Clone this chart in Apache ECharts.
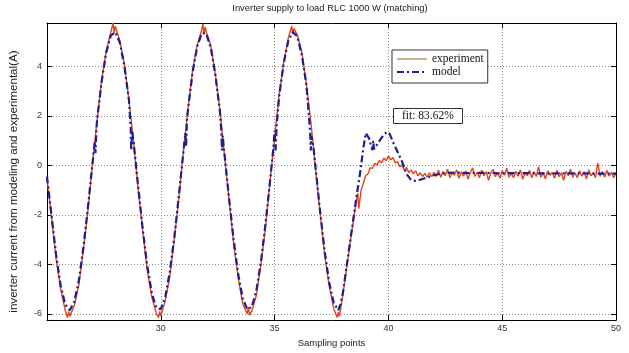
<!DOCTYPE html>
<html>
<head>
<meta charset="utf-8">
<script src="https://cdn.jsdelivr.net/npm/echarts@6/dist/echarts.min.js"></script>
<style>
html,body{margin:0;padding:0;background:#fff;}
#chart{width:629px;height:353px;}
</style>
</head>
<body>
<div id="chart"></div>
<script>
const titleText = 'Inverter supply to load RLC 1000 W (matching)';
const xAxisName = 'Sampling points';
const yAxisName = 'inverter current from modeling and experimental(A)';
const seriesNames = ['experiment', 'model'];
const fitText = 'fit: 83.62%';
const xTickLabels = [30, 35, 40, 45, 50];
const yTickLabels = [-6, -4, -2, 0, 2, 4];

const modelX = [25.0,25.2,25.4,25.6,25.8,26.0,26.2,26.4,26.6,26.8,27.0,27.1,27.13,27.17,27.2,27.4,27.6,27.8,28.0,28.2,28.4,28.6,28.68,28.7,28.74,28.8,
29.0,29.2,29.4,29.6,29.8,30.0,30.2,30.4,30.6,30.8,31.0,31.08,31.11,31.15,31.2,31.4,31.6,31.8,32.0,32.2,32.4,32.6,32.66,32.69,32.72,32.8,
33.0,33.2,33.4,33.6,33.8,34.0,34.2,34.4,34.6,34.8,34.95,35.0,35.04,35.09,35.2,35.4,35.6,35.8,36.0,36.2,36.4,36.52,36.56,36.59,36.62,36.7,36.8,
37.0,37.2,37.4,37.6,37.8,37.9,38.0,38.2,38.4,38.6,38.75,38.9,39.0,39.05,39.15,39.25,39.3,39.33,39.37,39.45,39.6,39.8,39.95,40.05,40.2,40.4,40.6,40.8,
41.0,41.2,41.4,41.6,41.8,42.0,42.3,42.6,43.0,43.5,44.0,45.0,46.0,47.0,48.0,49.0,50.0];
const modelY = [-0.45,-2.03,-3.61,-4.85,-5.62,-5.85,-5.51,-4.64,-3.32,-1.69,0.09,0.96,0.5,1.45,1.83,3.37,4.55,5.24,5.38,4.96,4.01,2.64,1.5,0.6,1.4,0.98,
-0.80,-2.53,-4.02,-5.14,-5.75,-5.81,-5.30,-4.28,-2.86,-1.16,0.62,1.3,0.75,1.85,2.32,3.77,4.81,5.34,5.32,4.73,3.64,2.17,1.35,0.6,1.2,0.44,
-1.34,-3.01,-4.40,-5.37,-5.82,-5.71,-5.05,-3.89,-2.37,-0.63,0.75,1.4,0.6,1.6,2.79,4.13,5.02,5.39,5.20,4.45,3.23,1.85,1.4,0.6,1.2,0.8,-0.09,
-1.86,-3.47,-4.74,-5.56,-5.85,-5.6,-5.15,-3.85,-2.55,-1.25,-0.35,0.7,1.3,1.35,1.1,0.75,0.62,1.0,0.65,0.72,0.98,1.25,1.35,1.28,0.95,0.55,0.15,-0.35,
-0.6,-0.63,-0.58,-0.52,-0.46,-0.4,-0.34,-0.3,-0.29,-0.31,-0.3,-0.32,-0.31,-0.33,-0.32,-0.33,-0.33];

const expX = [25.0,25.2,25.4,25.6,25.8,25.9,25.95,26.0,26.2,26.4,26.6,26.8,27.0,27.2,27.4,27.6,27.8,27.9,27.95,28.0,28.2,28.4,28.6,28.8,
29.0,29.2,29.4,29.6,29.8,29.9,29.95,30.0,30.2,30.4,30.6,30.8,31.0,31.2,31.4,31.6,31.8,31.85,31.9,31.95,32.0,32.2,32.4,32.6,32.8,
33.0,33.2,33.4,33.6,33.8,33.85,33.9,34.0,34.2,34.4,34.6,34.8,35.0,35.2,35.4,35.6,35.75,35.8,35.85,36.0,36.2,36.4,36.6,36.8,
37.0,37.2,37.4,37.6,37.75,37.8,37.85,38.0,38.2,38.4,38.6,38.65,38.7,38.8,38.9,39.0,39.1,39.2,39.3,39.4,39.5,39.6,39.7,39.8,39.9,
40.0,40.1,40.2,40.3,40.4,40.5,40.6,40.7,40.8,40.9,41.0,41.1,41.2,41.3,41.4,41.5,41.6,41.7,41.8,41.9,42.0,
42.1,42.2,42.3,42.4,42.5,42.6,42.7,42.8,42.9,43.0,43.1,43.2,43.3,43.4,43.5,43.6,43.7,43.8,43.9,44.0,
44.1,44.2,44.3,44.4,44.5,44.6,44.7,44.8,44.9,45.0,45.1,45.2,45.3,45.4,45.5,45.6,45.7,45.8,45.9,46.0,
46.1,46.2,46.3,46.4,46.5,46.6,46.7,46.8,46.9,47.0,47.1,47.2,47.3,47.4,47.5,47.6,47.7,47.8,47.9,48.0,
48.1,48.2,48.3,48.4,48.5,48.6,48.7,48.8,48.9,49.0,49.1,49.2,49.3,49.4,49.5,49.6,49.7,49.8,49.9,50.0];
const expY = [-0.55,-2.1,-3.78,-5.0,-5.85,-6.15,-5.9,-6.1,-5.66,-4.83,-3.42,-1.8,0.08,1.82,3.45,4.6,5.36,5.75,5.35,5.62,5.02,4.1,2.63,0.99,
-0.9,-2.6,-4.2,-5.3,-5.98,-6.15,-5.9,-6.08,-5.45,-4.47,-2.95,-1.27,0.63,2.31,3.86,4.86,5.47,5.72,5.3,5.58,5.38,4.84,3.66,2.21,0.38,
-1.4,-3.16,-4.54,-5.59,-6.0,-5.72,-6.05,-5.88,-5.25,-4.01,-2.5,-0.66,1.1,2.85,4.16,5.14,5.62,5.3,5.52,5.27,4.55,3.25,1.7,-0.17,
-1.92,-3.63,-4.88,-5.79,-6.15,-5.92,-6.1,-5.22,-3.9,-2.62,-1.38,-1.12,-1.75,-1.0,-0.72,-0.42,-0.35,-0.1,-0.12,0.08,0.02,0.2,0.1,0.3,0.18,
0.38,0.22,0.32,0.1,0.15,-0.05,0.02,-0.2,-0.08,-0.3,-0.18,-0.34,-0.22,-0.42,-0.3,-0.45,-0.32,-0.48,-0.3,-0.46,-0.28,
-0.45,-0.2,-0.48,-0.25,-0.42,-0.15,-0.5,-0.3,-0.4,-0.18,-0.52,-0.26,-0.44,-0.22,-0.55,-0.3,-0.1,-0.45,-0.28,-0.5,
-0.2,-0.42,-0.26,-0.6,-0.3,-0.16,-0.46,-0.3,-0.52,-0.22,-0.4,-0.12,-0.48,-0.32,-0.5,-0.24,-0.44,-0.18,-0.56,-0.3,
-0.42,-0.2,-0.5,-0.26,-0.45,-0.05,-0.48,-0.3,-0.55,-0.22,-0.4,-0.28,-0.52,-0.2,-0.46,-0.3,-0.6,-0.24,-0.42,-0.15,
-0.48,-0.3,-0.5,-0.22,-0.44,-0.26,-0.55,-0.18,-0.42,-0.3,-0.5,0.1,-0.45,-0.25,-0.48,-0.2,-0.44,-0.28,-0.5,-0.3];

const expData = expX.map((x, i) => [x, expY[i]]);
const modelData = modelX.map((x, i) => [x, modelY[i]]);

const sans = 'Liberation Sans';
const serif = 'Liberation Serif';
const isTick = (arr, v) => arr.some(t => Math.abs(t - v) < 1e-6);

const axisLineStyle = {show: true, onZero: false, lineStyle: {color: '#000', width: 1}};
const tickStyle = {show: true, inside: true, length: 5, lineStyle: {color: '#000', width: 1}};
const gridLine = {show: true, lineStyle: {color: '#8a8a8a', width: 1, type: [1, 2]}};

const chart = echarts.init(document.getElementById('chart'), null, {renderer: 'canvas'});
chart.setOption({
  animation: false,
  backgroundColor: '#fff',
  title: [
    {text: titleText, left: 330, top: 4, textAlign: 'center', padding: 0,
     textStyle: {fontFamily: sans, fontSize: 9.4, fontWeight: 'normal', color: '#222'}},
    {text: fitText, left: 393, top: 108, textAlign: 'left', padding: [2, 9, 2, 9],
     borderWidth: 1, borderColor: '#333', backgroundColor: '#fff',
     textStyle: {fontFamily: serif, fontSize: 11.5, fontWeight: 'normal', color: '#111'}}
  ],
  legend: {
    orient: 'vertical', left: 392, top: 50, padding: [3, 4, 5, 4],
    itemWidth: 30, itemHeight: 10, itemGap: 1,
    borderWidth: 1, borderColor: '#333', backgroundColor: '#fff',
    selectedMode: false,
    textStyle: {fontFamily: serif, fontSize: 11.5, color: '#111'},
    data: [
      {name: seriesNames[0], lineStyle: {color: '#c8b18c', width: 2}, itemStyle: {opacity: 0}},
      {name: seriesNames[1], itemStyle: {opacity: 0}}
    ]
  },
  grid: {left: 44, right: 13, top: 23, bottom: 24, containLabel: false},
  xAxis: [
    {type: 'value', min: 25, max: 50, interval: 5, position: 'bottom',
     axisLine: axisLineStyle, axisTick: tickStyle, splitLine: gridLine,
     axisLabel: {show: true, margin: 4, fontFamily: sans, fontSize: 9, color: '#333',
       formatter: v => isTick(xTickLabels, v) ? String(v) : ''},
     name: xAxisName, nameLocation: 'middle', nameGap: 13,
     nameTextStyle: {fontFamily: sans, fontSize: 9.5, color: '#222'}},
    {type: 'value', min: 25, max: 50, interval: 5, position: 'top',
     axisLine: axisLineStyle, axisTick: tickStyle, splitLine: {show: false},
     axisLabel: {show: false}}
  ],
  yAxis: [
    {type: 'value', min: -6.25, max: 5.75, splitNumber: 6, position: 'left',
     axisLine: axisLineStyle, axisTick: tickStyle, splitLine: gridLine,
     axisLabel: {show: true, margin: 5, fontFamily: sans, fontSize: 9, color: '#333',
       formatter: v => isTick(yTickLabels, v) ? String(Math.round(v)) : ''},
     name: yAxisName, nameLocation: 'middle', nameGap: 27,
     nameTextStyle: {fontFamily: sans, fontSize: 11.6, color: '#222', padding: [0, 20, 0, 0]}},
    {type: 'value', min: -6.25, max: 5.75, splitNumber: 6, position: 'right',
     axisLine: axisLineStyle, axisTick: tickStyle, splitLine: {show: false},
     axisLabel: {show: false}}
  ],
  series: [
    {name: seriesNames[0], type: 'line', xAxisIndex: 0, yAxisIndex: 0,
     data: expData, symbol: 'none', showSymbol: false, z: 2,
     lineStyle: {color: '#e0451d', width: 1.4}, itemStyle: {color: '#e0451d'}},
    {name: seriesNames[1], type: 'line', xAxisIndex: 0, yAxisIndex: 0,
     data: modelData, symbol: 'none', showSymbol: false, z: 3,
     lineStyle: {color: '#1d1d94', width: 2.2, type: [7, 3, 2, 3]}, itemStyle: {color: '#1d1d94'}}
  ]
});
</script>
</body>
</html>
